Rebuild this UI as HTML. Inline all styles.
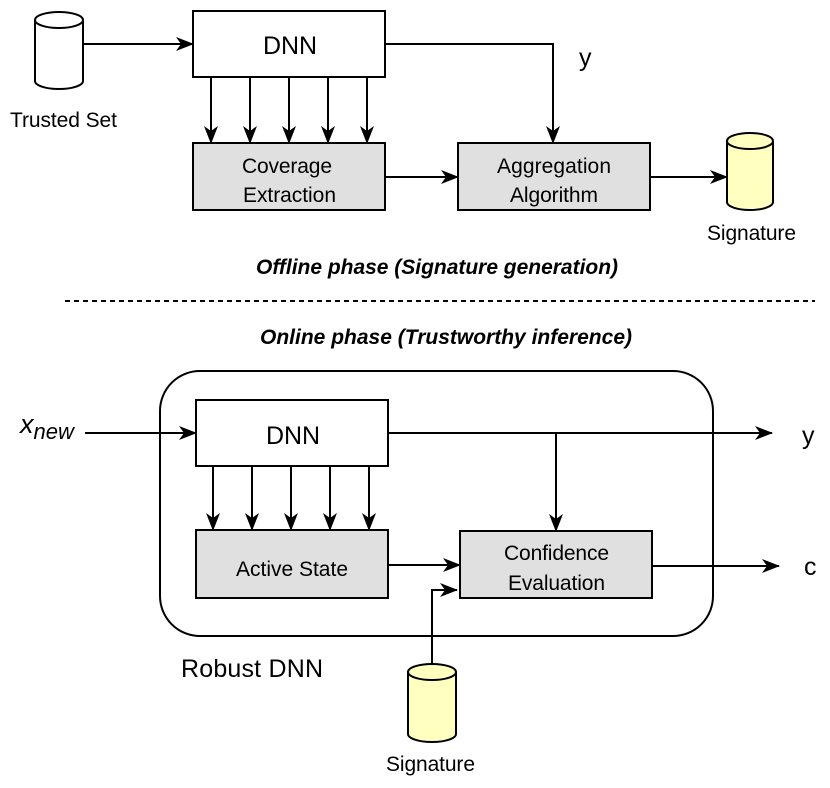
<!DOCTYPE html>
<html><head><meta charset="utf-8"><style>
html,body{margin:0;padding:0;background:#fff;}
text{font-family:"Liberation Sans",sans-serif;fill:#000;}
</style></head><body>
<svg width="830" height="783" viewBox="0 0 830 783" xmlns="http://www.w3.org/2000/svg">
<defs>
<marker id="a" markerWidth="18" markerHeight="14" refX="17" refY="7" orient="auto" markerUnits="userSpaceOnUse">
<path d="M0,0 L18,7 L0,14 L5,7 Z" fill="#000"/></marker>
</defs>
<g stroke="#000" stroke-width="2" fill="none">
<path d="M35,20 V81 A24,8 0 0 0 83,81 V20" fill="#fff"/>
<ellipse cx="59" cy="20" rx="24" ry="8" fill="#fff"/>
<line x1="83" y1="44" x2="193" y2="44" marker-end="url(#a)"/>
<rect x="193" y="11" width="192" height="66" fill="#fff"/>
<line x1="211" y1="77" x2="211" y2="143" marker-end="url(#a)"/>
<line x1="250" y1="77" x2="250" y2="143" marker-end="url(#a)"/>
<line x1="289" y1="77" x2="289" y2="143" marker-end="url(#a)"/>
<line x1="328" y1="77" x2="328" y2="143" marker-end="url(#a)"/>
<line x1="367" y1="77" x2="367" y2="143" marker-end="url(#a)"/>
<rect x="193" y="143" width="192" height="67" fill="#e0e0e0"/>
<polyline points="385,44 553,44 553,143" marker-end="url(#a)"/>
<line x1="385" y1="177" x2="458" y2="177" marker-end="url(#a)"/>
<rect x="458" y="143" width="192" height="67" fill="#e0e0e0"/>
<line x1="650" y1="177" x2="727" y2="177" marker-end="url(#a)"/>
<path d="M727,141 V202 A23,8 0 0 0 773,202 V141" fill="#ffffc0"/>
<ellipse cx="750" cy="141" rx="23" ry="8" fill="#ffffc0"/>
<line x1="65" y1="301" x2="815" y2="301" stroke-dasharray="5,4"/>
<rect x="160" y="371" width="553" height="265" rx="40" ry="40" fill="#fff"/>
<line x1="85" y1="433" x2="196" y2="433" marker-end="url(#a)"/>
<rect x="196" y="400" width="192" height="66" fill="#fff"/>
<line x1="213" y1="466" x2="213" y2="530" marker-end="url(#a)"/>
<line x1="252" y1="466" x2="252" y2="530" marker-end="url(#a)"/>
<line x1="291" y1="466" x2="291" y2="530" marker-end="url(#a)"/>
<line x1="330" y1="466" x2="330" y2="530" marker-end="url(#a)"/>
<line x1="369" y1="466" x2="369" y2="530" marker-end="url(#a)"/>
<rect x="196" y="530" width="192" height="68" fill="#e0e0e0"/>
<line x1="388" y1="433" x2="772" y2="433" marker-end="url(#a)"/>
<line x1="556" y1="433" x2="556" y2="531" marker-end="url(#a)"/>
<line x1="388" y1="565" x2="460" y2="565" marker-end="url(#a)"/>
<rect x="460" y="531" width="192" height="67" fill="#e0e0e0"/>
<line x1="652" y1="566" x2="779" y2="566" marker-end="url(#a)"/>
<polyline points="432,664 432,590 457,590" marker-end="url(#a)"/>
<path d="M408,672 V734 A24,8 0 0 0 456,734 V672" fill="#ffffc0"/>
<ellipse cx="432" cy="672" rx="24" ry="8" fill="#ffffc0"/>
</g>
<text x="263" y="54" font-size="25" textLength="54">DNN</text>
<text x="10" y="127" font-size="21" textLength="107">Trusted Set</text>
<text x="242" y="173" font-size="21" textLength="90">Coverage</text>
<text x="243" y="202" font-size="21" textLength="93">Extraction</text>
<text x="497" y="173" font-size="21" textLength="114">Aggregation</text>
<text x="510" y="202" font-size="21" textLength="88">Algorithm</text>
<text x="579" y="66" font-size="25">y</text>
<text x="707" y="240" font-size="21" textLength="89">Signature</text>
<text x="256" y="274" font-size="21" font-weight="bold" font-style="italic" textLength="362">Offline phase (Signature generation)</text>
<text x="260" y="344" font-size="21" font-weight="bold" font-style="italic" textLength="372">Online phase (Trustworthy inference)</text>
<text x="20" y="433" font-size="27" font-style="italic">x<tspan font-size="22" dy="6">new</tspan></text>
<text x="266" y="444" font-size="25" textLength="54">DNN</text>
<text x="236" y="576" font-size="21" textLength="112">Active State</text>
<text x="504" y="560" font-size="21" textLength="105">Confidence</text>
<text x="508" y="590" font-size="21" textLength="97">Evaluation</text>
<text x="802" y="444" font-size="25">y</text>
<text x="804" y="575" font-size="25">c</text>
<text x="181" y="677" font-size="25" textLength="142">Robust DNN</text>
<text x="386" y="771" font-size="21" textLength="89">Signature</text>
</svg>
</body></html>
